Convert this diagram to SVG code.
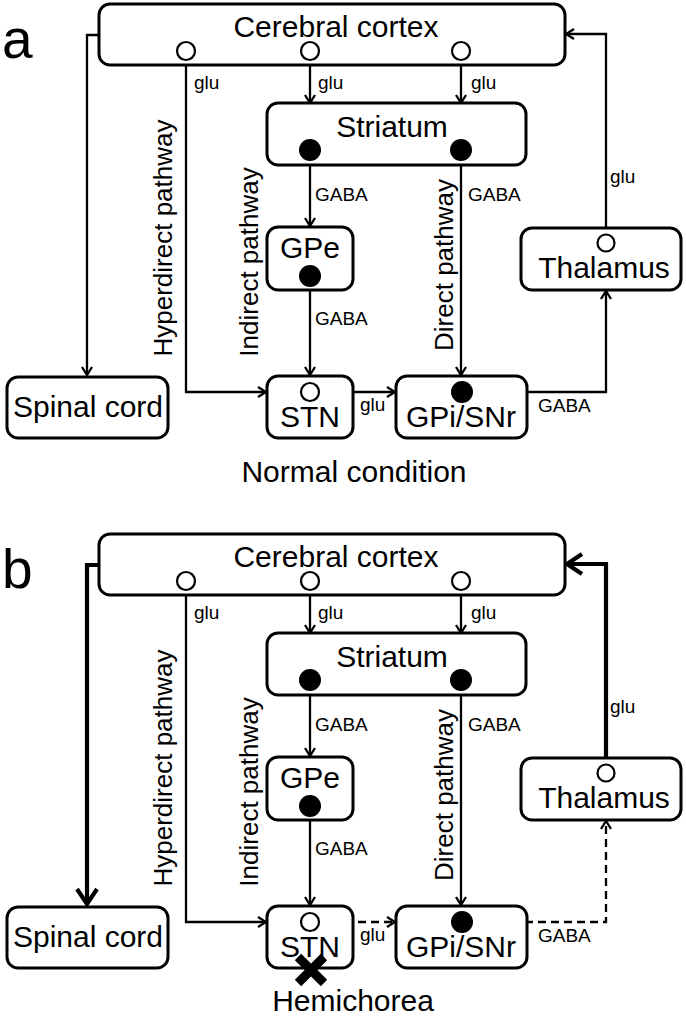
<svg xmlns="http://www.w3.org/2000/svg" width="686" height="1016" viewBox="0 0 686 1016">
<style>
.box{fill:#fff;stroke:#000;stroke-width:3}
.t{font-family:"Liberation Sans",Arial,Helvetica,sans-serif;fill:#000}
.n{font-size:30px;text-anchor:middle}
.sm{font-size:19px}
.pth{font-size:26px;text-anchor:middle}
.big{font-size:55px}
.ln{fill:none;stroke:#000;stroke-width:2.3}
.thick{stroke-width:4.2}
.dash{stroke-dasharray:8 5}
.open{fill:#fff;stroke:#000;stroke-width:2.2}
.fill{fill:#000}
</style>
<defs>
<marker id="ar" markerUnits="userSpaceOnUse" viewBox="-12 -8 14 16" refX="0" refY="0" markerWidth="14" markerHeight="16" orient="auto">
<path d="M-8,-5 L0,0 L-8,5" fill="none" stroke="#000" stroke-width="2.3"/>
</marker>
<marker id="arb" markerUnits="userSpaceOnUse" viewBox="-20 -13 24 26" refX="0" refY="0" markerWidth="24" markerHeight="26" orient="auto">
<path d="M-15,-10 L0,0 L-15,10" fill="none" stroke="#000" stroke-width="4.2"/>
</marker>
</defs>
<rect width="686" height="1016" fill="#fff"/>

<!-- ===== Panel a ===== -->
<text class="t big" x="2" y="58">a</text>
<g id="a-connectors">
<path class="ln" d="M99,35 H87 V375" marker-end="url(#ar)"/>
<path class="ln" d="M186,51 V392 H266" marker-end="url(#ar)"/>
<path class="ln" d="M310,51 V103" marker-end="url(#ar)"/>
<path class="ln" d="M461,51 V103" marker-end="url(#ar)"/>
<path class="ln" d="M310,150 V226" marker-end="url(#ar)"/>
<path class="ln" d="M461,150 V375" marker-end="url(#ar)"/>
<path class="ln" d="M310,276 V375" marker-end="url(#ar)"/>
<path class="ln" d="M310,392 H395" marker-end="url(#ar)"/>
<path class="ln" d="M461,392 H606 V291" marker-end="url(#ar)"/>
<path class="ln" d="M606,243 V34 H566" marker-end="url(#ar)"/>
<text class="t sm" x="194" y="89">glu</text>
<text class="t sm" x="318" y="89">glu</text>
<text class="t sm" x="471" y="89">glu</text>
<text class="t sm" x="315" y="201">GABA</text>
<text class="t sm" x="468" y="201">GABA</text>
<text class="t sm" x="315" y="325">GABA</text>
<text class="t sm" x="360" y="411">glu</text>
<text class="t sm" x="538" y="412">GABA</text>
<text class="t sm" x="610" y="183">glu</text>
<text class="t pth" transform="translate(172,238) rotate(-90)">Hyperdirect pathway</text>
<text class="t pth" transform="translate(258,262) rotate(-90)">Indirect pathway</text>
<text class="t pth" transform="translate(453,265) rotate(-90)">Direct pathway</text>
</g>
<g id="a-cortex">
<rect class="box" x="99" y="4" width="466" height="61" rx="11"/>
<text class="t n" x="336" y="37">Cerebral cortex</text>
<circle class="open" cx="186" cy="51" r="9"/>
<circle class="open" cx="310" cy="51" r="9"/>
<circle class="open" cx="461" cy="51" r="9"/>
</g>
<g id="a-striatum">
<rect class="box" x="267" y="103" width="259" height="62" rx="11"/>
<text class="t n" x="392" y="137">Striatum</text>
<circle class="fill" cx="310" cy="150" r="11"/>
<circle class="fill" cx="461" cy="150" r="11"/>
</g>
<g id="a-gpe">
<rect class="box" x="267" y="227" width="86" height="63" rx="11"/>
<text class="t n" x="310" y="258">GPe</text>
<circle class="fill" cx="310" cy="276" r="11"/>
</g>
<g id="a-thalamus">
<rect class="box" x="521" y="228" width="160" height="62" rx="11"/>
<text class="t n" x="604" y="278">Thalamus</text>
<circle class="open" cx="606" cy="243" r="8.5"/>
</g>
<g id="a-spinal">
<rect class="box" x="7" y="377" width="161" height="61" rx="11"/>
<text class="t n" x="88" y="417">Spinal cord</text>
</g>
<g id="a-stn">
<rect class="box" x="267" y="376" width="86" height="62" rx="11"/>
<text class="t n" x="310" y="427">STN</text>
<circle class="open" cx="310" cy="392" r="9"/>
</g>
<g id="a-gpi">
<rect class="box" x="396" y="376" width="131" height="62" rx="11"/>
<text class="t n" x="461" y="427">GPi/SNr</text>
<circle class="fill" cx="462" cy="392" r="11"/>
</g>
<text class="t n" x="354" y="482">Normal condition</text>

<!-- ===== Panel b ===== -->
<text class="t big" x="2" y="588">b</text>
<g id="b-connectors">
<path class="ln thick" d="M99,565 H87 V904" marker-end="url(#arb)"/>
<path class="ln" d="M186,581 V922 H266" marker-end="url(#ar)"/>
<path class="ln" d="M310,581 V633" marker-end="url(#ar)"/>
<path class="ln" d="M461,581 V633" marker-end="url(#ar)"/>
<path class="ln" d="M310,680 V756" marker-end="url(#ar)"/>
<path class="ln" d="M461,680 V905" marker-end="url(#ar)"/>
<path class="ln" d="M310,806 V905" marker-end="url(#ar)"/>
<path class="ln dash" d="M319,922 H395" marker-end="url(#ar)"/>
<path class="ln dash" d="M473,922 H606 V821" marker-end="url(#ar)"/>
<path class="ln thick" d="M606,773 V564 H567" marker-end="url(#arb)"/>
<text class="t sm" x="194" y="619">glu</text>
<text class="t sm" x="318" y="619">glu</text>
<text class="t sm" x="471" y="619">glu</text>
<text class="t sm" x="315" y="731">GABA</text>
<text class="t sm" x="468" y="731">GABA</text>
<text class="t sm" x="315" y="855">GABA</text>
<text class="t sm" x="360" y="941">glu</text>
<text class="t sm" x="538" y="942">GABA</text>
<text class="t sm" x="610" y="713">glu</text>
<text class="t pth" transform="translate(172,768) rotate(-90)">Hyperdirect pathway</text>
<text class="t pth" transform="translate(258,792) rotate(-90)">Indirect pathway</text>
<text class="t pth" transform="translate(453,795) rotate(-90)">Direct pathway</text>
</g>
<g id="b-cortex">
<rect class="box" x="99" y="534" width="466" height="61" rx="11"/>
<text class="t n" x="336" y="567">Cerebral cortex</text>
<circle class="open" cx="186" cy="581" r="9"/>
<circle class="open" cx="310" cy="581" r="9"/>
<circle class="open" cx="461" cy="581" r="9"/>
</g>
<g id="b-striatum">
<rect class="box" x="267" y="633" width="259" height="62" rx="11"/>
<text class="t n" x="392" y="667">Striatum</text>
<circle class="fill" cx="310" cy="680" r="11"/>
<circle class="fill" cx="461" cy="680" r="11"/>
</g>
<g id="b-gpe">
<rect class="box" x="267" y="757" width="86" height="63" rx="11"/>
<text class="t n" x="310" y="788">GPe</text>
<circle class="fill" cx="310" cy="806" r="11"/>
</g>
<g id="b-thalamus">
<rect class="box" x="521" y="758" width="160" height="62" rx="11"/>
<text class="t n" x="604" y="808">Thalamus</text>
<circle class="open" cx="606" cy="773" r="8.5"/>
</g>
<g id="b-spinal">
<rect class="box" x="7" y="907" width="161" height="61" rx="11"/>
<text class="t n" x="88" y="947">Spinal cord</text>
</g>
<g id="b-stn">
<rect class="box" x="267" y="906" width="86" height="62" rx="11"/>
<text class="t n" x="310" y="957">STN</text>
<circle class="open" cx="310" cy="922" r="9"/>
<path d="M298,957 L324,983 M324,957 L298,983" stroke="#000" stroke-width="9" fill="none"/>
</g>
<g id="b-gpi">
<rect class="box" x="396" y="906" width="131" height="62" rx="11"/>
<text class="t n" x="461" y="957">GPi/SNr</text>
<circle class="fill" cx="462" cy="922" r="11"/>
</g>
<text class="t n" x="353" y="1011">Hemichorea</text>
</svg>
